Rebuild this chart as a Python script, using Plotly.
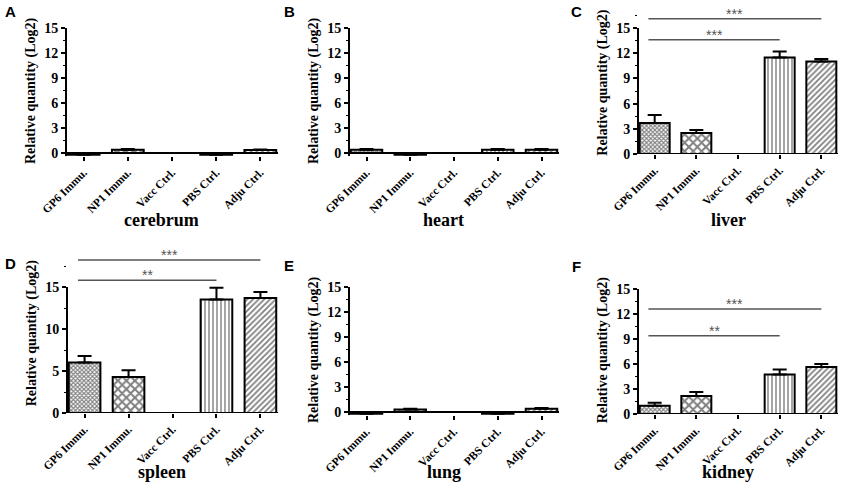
import plotly.graph_objects as go

W, H = 847, 494

categories = ["GP6 Immu.", "NP1 Immu.", "Vacc Ctrl.", "PBS Ctrl.", "Adju Ctrl."]

# relative quantity (log2) per tissue, mean and upper error
cerebrum = [-0.2, 0.4, 0.0, -0.2, 0.35]
cerebrum_err = [0.05, 0.08, 0.0, 0.05, 0.08]
heart = [0.4, -0.2, 0.0, 0.4, 0.4]
heart_err = [0.08, 0.05, 0.0, 0.08, 0.08]
liver = [3.7, 2.5, 0.0, 11.5, 11.0]
liver_err = [0.95, 0.35, 0.0, 0.7, 0.3]
spleen = [6.0, 4.3, 0.0, 13.5, 13.7]
spleen_err = [0.8, 0.8, 0.0, 1.4, 0.7]
lung = [-0.2, 0.3, 0.0, -0.2, 0.4]
lung_err = [0.05, 0.08, 0.0, 0.05, 0.08]
kidney = [1.0, 2.15, 0.0, 4.75, 5.65]
kidney_err = [0.35, 0.5, 0.0, 0.6, 0.35]

# significance brackets: (from category, to category, y level, label)
liver_sig = [(0, 4, 16.1, "***"), (0, 3, 13.6, "***")]
spleen_sig = [(0, 4, 18.2, "***"), (0, 3, 15.8, "**")]
kidney_sig = [(0, 4, 12.6, "***"), (0, 3, 9.4, "**")]

# hatch style per group
patterns = [
    dict(shape="x", size=3, solidity=0.6, fgcolor="black", bgcolor="white"),
    dict(shape="x", size=6, solidity=0.55, fgcolor="black", bgcolor="white"),
    dict(shape="", fgcolor="black", bgcolor="white"),
    dict(shape="|", size=4, solidity=0.35, fgcolor="black", bgcolor="white"),
    dict(shape="/", size=4, solidity=0.45, fgcolor="black", bgcolor="white"),
]

SERIF = "Liberation Serif"


def px_x(v):
    return v / W


def px_y(v):
    return 1 - v / H


# panel layout in pixels: axis x0, x1, y of value 0, y of value 15
panels = [
    dict(letter="A", name="cerebrum", vals=cerebrum, err=cerebrum_err, sig=[],
         x0=66, x1=278, y0px=153, y15px=28, ylo=-0.4, yhi=15.3, ticks=[0, 3, 6, 9, 12, 15], minor=1.5),
    dict(letter="B", name="heart", vals=heart, err=heart_err, sig=[],
         x0=349, x1=559, y0px=153, y15px=28, ylo=-0.4, yhi=15.3, ticks=[0, 3, 6, 9, 12, 15], minor=1.5),
    dict(letter="C", name="liver", vals=liver, err=liver_err, sig=liver_sig,
         x0=638, x1=838, y0px=154, y15px=28, ylo=0, yhi=17.0, ticks=[0, 3, 6, 9, 12, 15], minor=1.5),
    dict(letter="D", name="spleen", vals=spleen, err=spleen_err, sig=spleen_sig,
         x0=67, x1=278, y0px=413, y15px=287, ylo=0, yhi=19.0, ticks=[0, 5, 10, 15], minor=2.5),
    dict(letter="E", name="lung", vals=lung, err=lung_err, sig=[],
         x0=349, x1=559, y0px=412, y15px=287, ylo=-0.4, yhi=15.3, ticks=[0, 3, 6, 9, 12, 15], minor=1.5),
    dict(letter="F", name="kidney", vals=kidney, err=kidney_err, sig=kidney_sig,
         x0=638, x1=838, y0px=414, y15px=289, ylo=0, yhi=15.3, ticks=[0, 3, 6, 9, 12, 15], minor=1.5),
]

letter_pos = {"A": (10, 11), "B": (289, 11), "C": (576, 11), "D": (10, 263), "E": (289, 265), "F": (576, 266)}

fig = go.Figure()
shapes = []
annotations = []

for i, p in enumerate(panels):
    n = "" if i == 0 else str(i + 1)
    xa, ya = "x" + n, "y" + n
    scale = (p["y0px"] - p["y15px"]) / 15.0
    bot_px = p["y0px"] - p["ylo"] * scale
    top_px = p["y0px"] - p["yhi"] * scale

    for j, cat in enumerate(categories):
        fig.add_trace(go.Bar(
            x=[cat], y=[p["vals"][j]],
            width=0.72,
            marker=dict(color="white", line=dict(color="black", width=2), pattern=patterns[j]),
            error_y=dict(type="data", symmetric=False, array=[p["err"][j]], arrayminus=[0],
                         color="black", thickness=2, width=7, visible=p["err"][j] > 0),
            xaxis=xa, yaxis=ya, showlegend=False, hoverinfo="y",
        ))

    fig.layout["xaxis" + n] = dict(
        domain=[px_x(p["x0"]), px_x(p["x1"])], anchor=ya, automargin=False,
        type="category", categoryorder="array", categoryarray=categories,
        range=[-0.4, 4.4], showline=False, showgrid=False, zeroline=False,
        ticks="outside", ticklen=4, tickwidth=1.5, tickcolor="black",
        tickangle=-45, tickfont=dict(family=SERIF, size=11.5, color="black", weight="bold"),
    )
    fig.layout["yaxis" + n] = dict(
        domain=[px_y(bot_px), px_y(top_px)], anchor=xa, automargin=False,
        range=[p["ylo"], p["yhi"]], showline=False, showgrid=False, zeroline=False,
        tickvals=p["ticks"], ticks="outside", ticklen=4, tickwidth=1.5, tickcolor="black",
        minor=dict(dtick=p["minor"], tick0=0, ticks="outside", ticklen=2, tickwidth=1, tickcolor="black"),
        tickfont=dict(family=SERIF, size=14, color="black", weight="bold"),
        title=dict(text="Relative quantity (Log2)", standoff=5,
                   font=dict(family=SERIF, size=14, color="black", weight="bold")),
    )

    # axis lines: y axis stops at 15, x axis sits at zero
    shapes.append(dict(type="line", xref=xa + " domain", yref=ya, x0=0, x1=0, y0=p["ylo"], y1=15,
                       line=dict(color="black", width=2)))
    shapes.append(dict(type="line", xref=xa + " domain", yref=ya, x0=0, x1=1, y0=0, y1=0,
                       line=dict(color="black", width=2)))

    for a, b, lvl, lab in p["sig"]:
        shapes.append(dict(type="line", xref=xa, yref=ya, x0=a - 0.15, x1=b, y0=lvl, y1=lvl,
                           line=dict(color="#555555", width=1.5)))
        annotations.append(dict(x=(a - 0.15 + b) / 2, y=lvl, xref=xa, yref=ya, text=lab,
                                showarrow=False, xanchor="center", yanchor="bottom", yshift=-5,
                                font=dict(family="Liberation Sans", size=14, color="#555555")))

    name_y = 220 if i < 3 else 472
    annotations.append(dict(x=0.45, y=px_y(name_y), xref=xa + " domain", yref="paper",
                            xanchor="center", yanchor="middle",
                            text="<b>%s</b>" % p["name"], showarrow=False,
                            font=dict(family=SERIF, size=18, color="black")))
    lx, ly = letter_pos[p["letter"]]
    annotations.append(dict(x=px_x(lx), y=px_y(ly), xref="paper", yref="paper",
                            xanchor="center", yanchor="middle",
                            text="<b>%s</b>" % p["letter"], showarrow=False,
                            font=dict(family="Liberation Sans", size=15, color="black")))

fig.update_layout(
    width=W, height=H,
    margin=dict(l=0, r=0, t=0, b=0, autoexpand=False),
    paper_bgcolor="white", plot_bgcolor="white",
    shapes=shapes, annotations=annotations,
    bargap=0.2,
)

# drop the browser's default body margin so the figure sits at the page corner
fig.write_html("out.html", config={"displayModeBar": False},
               post_script="document.body.style.margin = '0';")
